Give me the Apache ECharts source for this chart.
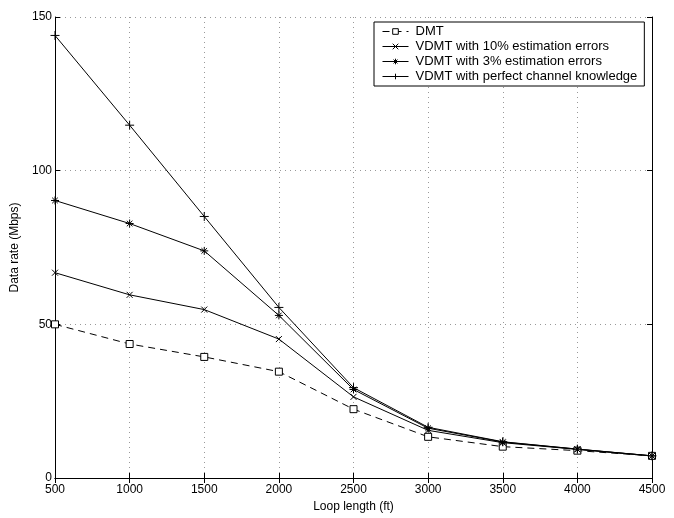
<!DOCTYPE html>
<html><head><meta charset="utf-8">
<script src="https://cdn.jsdelivr.net/npm/echarts@6/dist/echarts.min.js"></script>
<style>html,body{margin:0;padding:0;background:#fff}#c{width:674px;height:518px}</style>
</head><body><div id="c"></div>
<script>
var loopLength = [500, 1000, 1500, 2000, 2500, 3000, 3500, 4000, 4500];
var dmt        = [50.0, 43.6, 39.4, 34.6, 22.4, 13.4, 10.2, 8.9, 7.2];
var vdmt10     = [66.8, 59.6, 54.8, 45.2, 26.4, 15.5, 11.5, 9.3, 7.2];
var vdmt3      = [90.3, 82.8, 73.9, 52.9, 28.8, 16.2, 11.7, 9.4, 7.2];
var vdmtPerf   = [144.0, 114.8, 85.1, 55.5, 29.4, 16.5, 11.8, 9.4, 7.2];
var seriesNames = ['DMT', 'VDMT with 10% estimation errors', 'VDMT with 3% estimation errors', 'VDMT with perfect channel knowledge'];

function pairs(ys){ return loopLength.map(function(x,i){ return [x, ys[i]]; }); }
var font = 'Liberation Sans, Arial, sans-serif';
var symX = 'path://M0,0L10,10M10,0L0,10';
var symStar = 'path://M0,5L10,5M5,0L5,10M1.5,1.5L8.5,8.5M8.5,1.5L1.5,8.5';
var symPlus = 'path://M0,5L10,5M5,0L5,10';

function mk(name, ys, sym, size, dashed, fill){
  return {
    name: name, type: 'line', data: pairs(ys), symbol: sym, symbolSize: size,
    showAllSymbol: true,
    lineStyle: {color: '#000', width: 1, type: dashed ? [7,5] : 'solid'},
    itemStyle: {color: fill, borderColor: '#000', borderWidth: 1},
    emphasis: {disabled: true}, animation: false
  };
}

var chart = echarts.init(document.getElementById('c'));
chart.setOption({
  animation: false,
  backgroundColor: '#fff',
  grid: {left: 55, right: 22, top: 17, bottom: 33, containLabel: false},
  legend: {
    data: seriesNames, orient: 'vertical', left: 374, top: 22,
    backgroundColor: '#fff', borderColor: '#000', borderWidth: 1,
    padding: [3, 7, 3, 8], itemGap: 2, itemWidth: 26, itemHeight: 7,
    lineStyle: {width: 1},
    itemStyle: {borderWidth: 1},
    textStyle: {fontFamily: font, fontSize: 13, color: '#000', padding: [0, 0, 0, 2]}
  },
  xAxis: [{
    type: 'value', min: 500, max: 4500, interval: 500,
    name: 'Loop length (ft)', nameLocation: 'middle', nameGap: 23,
    nameTextStyle: {fontFamily: font, fontSize: 12, color: '#000'},
    axisLine: {lineStyle: {color: '#000', width: 1}},
    axisTick: {inside: true, length: 5, lineStyle: {color: '#000'}},
    axisLabel: {fontFamily: font, fontSize: 12, color: '#000', margin: 6,
      formatter: function(v){ return String(v); }},
    splitLine: {show: true, lineStyle: {color: '#999', type: [1, 4], width: 1}}
  }, {
    type: 'value', position: 'top', min: 500, max: 4500, interval: 500,
    axisLine: {show: true, lineStyle: {color: '#000', width: 1}},
    axisTick: {show: true, inside: true, length: 5, lineStyle: {color: '#000'}},
    axisLabel: {show: false}, splitLine: {show: false}
  }],
  yAxis: [{
    type: 'value', min: 0, max: 150, interval: 50,
    name: 'Data rate (Mbps)', nameLocation: 'middle', nameGap: 25,
    nameTextStyle: {fontFamily: font, fontSize: 12, color: '#000'},
    axisLine: {show: true, lineStyle: {color: '#000', width: 1}},
    axisTick: {show: true, inside: true, length: 5, lineStyle: {color: '#000'}},
    axisLabel: {fontFamily: font, fontSize: 12, color: '#000', margin: 3},
    splitLine: {show: true, lineStyle: {color: '#999', type: [1, 4], width: 1}}
  }, {
    type: 'value', position: 'right', min: 0, max: 150, interval: 50,
    axisLine: {show: true, lineStyle: {color: '#000', width: 1}},
    axisTick: {show: true, inside: true, length: 5, lineStyle: {color: '#000'}},
    axisLabel: {show: false}, splitLine: {show: false}
  }],
  series: [
    mk(seriesNames[0], dmt, 'rect', 7, true, '#fff'),
    mk(seriesNames[1], vdmt10, symX, 6, false, '#000'),
    mk(seriesNames[2], vdmt3, symStar, 8, false, '#000'),
    mk(seriesNames[3], vdmtPerf, symPlus, 9, false, '#000')
  ]
});
</script></body></html>
